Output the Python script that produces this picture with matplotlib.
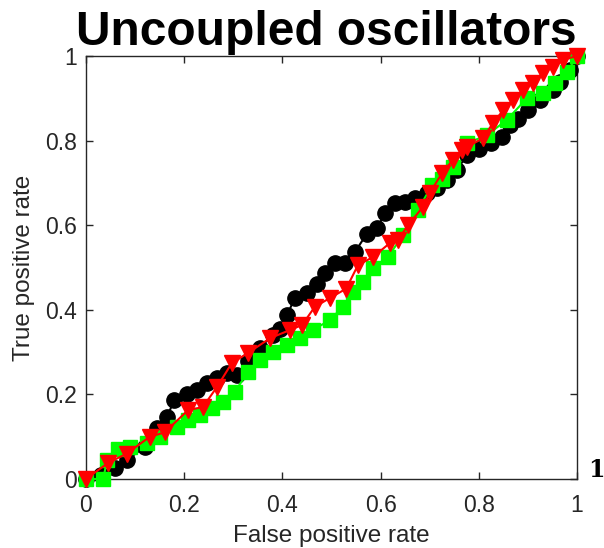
import matplotlib
matplotlib.use('Agg')
import matplotlib.pyplot as plt

# ROC curves
black_x = [0, 0.03, 0.06, 0.083, 0.12, 0.145, 0.165, 0.18, 0.205, 0.226, 0.246, 0.267,
           0.287, 0.307, 0.33, 0.354, 0.38, 0.395, 0.41, 0.425, 0.45, 0.47, 0.487, 0.507,
           0.527, 0.548, 0.572, 0.593, 0.609, 0.629, 0.65, 0.67, 0.694, 0.715, 0.735,
           0.755, 0.776, 0.8, 0.825, 0.847, 0.863, 0.88, 0.9, 0.925, 0.951, 0.965, 0.986, 1]
black_y = [0, 0.01, 0.025, 0.045, 0.076, 0.12, 0.147, 0.187, 0.2, 0.21, 0.227, 0.239,
           0.25, 0.245, 0.28, 0.31, 0.34, 0.355, 0.388, 0.428, 0.44, 0.46, 0.487, 0.51,
           0.51, 0.537, 0.58, 0.593, 0.629, 0.652, 0.655, 0.664, 0.676, 0.688, 0.707,
           0.73, 0.766, 0.78, 0.795, 0.808, 0.837, 0.85, 0.872, 0.895, 0.92, 0.939, 0.967, 1]

green_x = [0, 0.035, 0.043, 0.065, 0.09, 0.124, 0.15, 0.185, 0.208, 0.232, 0.257, 0.28,
           0.303, 0.33, 0.354, 0.38, 0.41, 0.436, 0.462, 0.497, 0.523, 0.544, 0.564, 0.585,
           0.615, 0.646, 0.676, 0.705, 0.725, 0.747, 0.776, 0.817, 0.857, 0.898, 0.93,
           0.955, 0.98, 1]
green_y = [0, 0, 0.045, 0.07, 0.075, 0.085, 0.1, 0.123, 0.14, 0.151, 0.168, 0.182,
           0.206, 0.253, 0.281, 0.3, 0.317, 0.333, 0.352, 0.376, 0.407, 0.442, 0.466, 0.5,
           0.525, 0.577, 0.636, 0.695, 0.71, 0.738, 0.794, 0.813, 0.849, 0.9, 0.912,
           0.935, 0.962, 1]

red_x = [0, 0.045, 0.083, 0.13, 0.16, 0.208, 0.238, 0.267, 0.297, 0.33, 0.375, 0.415,
         0.44, 0.466, 0.497, 0.53, 0.554, 0.585, 0.619, 0.635, 0.656, 0.686, 0.7, 0.725,
         0.747, 0.766, 0.776, 0.809, 0.829, 0.85, 0.87, 0.89, 0.91, 0.93, 0.951, 0.971, 1]
red_y = [0, 0.038, 0.06, 0.1, 0.11, 0.163, 0.17, 0.218, 0.274, 0.298, 0.333, 0.352,
         0.364, 0.407, 0.428, 0.45, 0.506, 0.525, 0.558, 0.565, 0.6, 0.643, 0.676, 0.723,
         0.754, 0.778, 0.785, 0.806, 0.842, 0.872, 0.896, 0.92, 0.936, 0.96, 0.974, 0.991, 1]

ticks = [0, 0.2, 0.4, 0.6, 0.8, 1]
tick_labels = ['0', '0.2', '0.4', '0.6', '0.8', '1']

plt.rcParams['font.family'] = ['Liberation Sans', 'DejaVu Sans']
axcol = '#262626'

fig = plt.figure(figsize=(6.04, 5.48), dpi=100)
ax = fig.add_axes([86/604., 1 - 479/548., 491/604., 423/548.])

ax.plot(black_x, black_y, '-o', color='black', markersize=11, linewidth=1.5,
        clip_on=False, zorder=3)
ax.plot(green_x, green_y, '-s', color=(0, 1, 0), markersize=9.5, linewidth=1.5,
        clip_on=False, zorder=4)
ax.plot(red_x, red_y, '-v', color='red', markersize=12, linewidth=1.5,
        clip_on=False, zorder=5)

ax.set_xlim(0, 1)
ax.set_ylim(0, 1)
ax.set_xticks(ticks)
ax.set_xticklabels(tick_labels)
ax.set_yticks(ticks)
ax.set_yticklabels(tick_labels)
ax.tick_params(direction='in', length=5, width=1, colors=axcol, labelsize=16.5,
               top=True, right=True)
ax.tick_params(axis='x', pad=11)
ax.tick_params(axis='y', pad=6.5)
for s in ax.spines.values():
    s.set_color(axcol)
    s.set_linewidth(1)

# axis labels and title placed in figure pixels
fig.text(331/604., 1 - 542/548., 'False positive rate', fontsize=17.5, color=axcol,
         ha='center', va='baseline')
fig.text(24/604., 1 - 268/548., 'True positive rate', fontsize=17.5, color=axcol,
         ha='center', va='center', rotation=90)
fig.text(326/604., 1 - 45/548., 'Uncoupled oscillators', fontsize=34.5, fontweight='bold',
         ha='center', va='baseline')
# stray glyph at the right of the x axis
fig.text(596/604., 1 - 470/548., '1', fontsize=17, fontweight='bold',
         family='DejaVu Serif', ha='center', va='center')

fig.savefig('out.png', dpi=100)
